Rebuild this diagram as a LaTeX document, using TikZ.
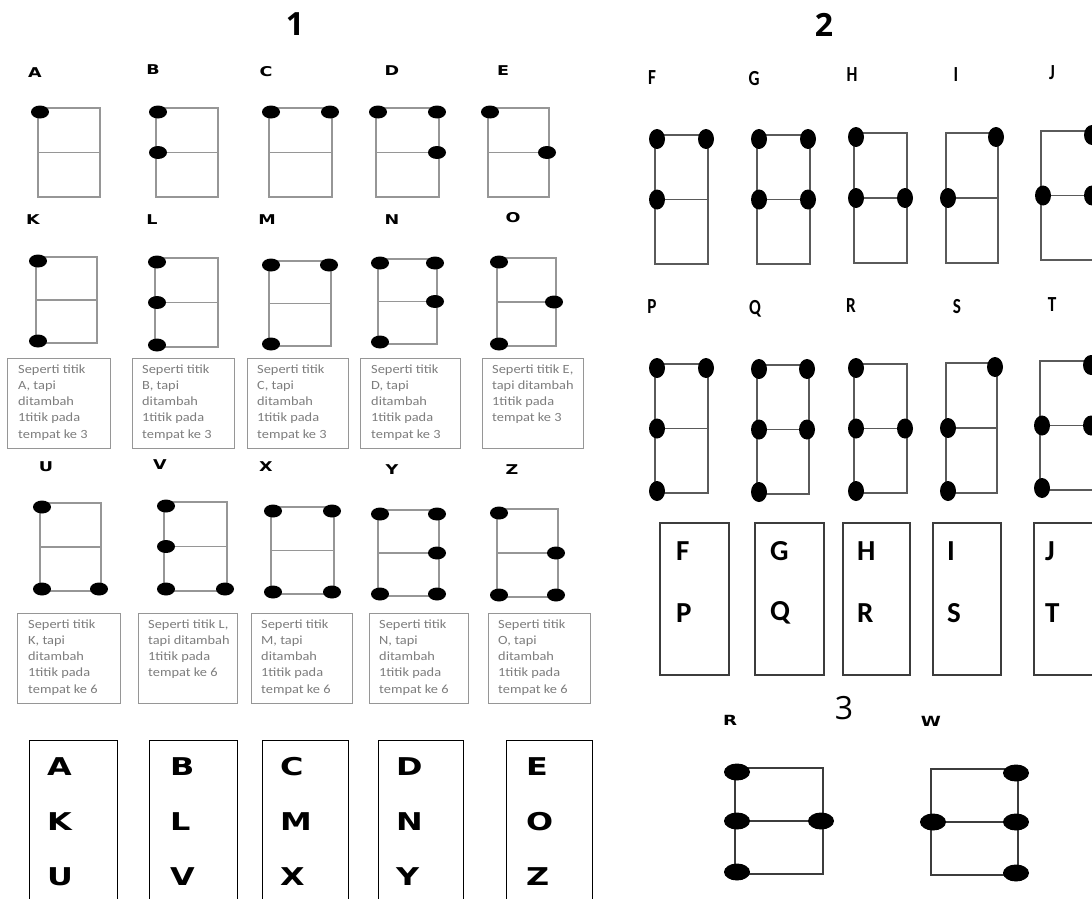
\documentclass[tikz,border=0pt]{standalone}
\usepackage{fontspec}
\usepackage{xcolor}
\usepackage{tikz}
\usetikzlibrary{positioning}
\newfontfamily\widefont[FakeStretch=1.3]{DejaVu Sans}
\newfontfamily\notefont{Carlito}
\newfontfamily\notewide[FakeStretch=1.15]{Carlito}
\newfontfamily\narrowfont[FakeStretch=0.8]{Carlito}
\newfontfamily\digitfont{Open Sans}
\definecolor{cellgray}{RGB}{150,150,150}
\definecolor{celldark}{RGB}{90,90,90}
\definecolor{boxdark}{RGB}{60,60,60}
\definecolor{notegray}{RGB}{125,125,125}
\tikzset{
  cellone/.style={draw=cellgray, line width=1.3pt},
  celltwo/.style={draw=celldark, line width=1.2pt},
  cellthree/.style={draw=boxdark, line width=1.3pt},
  dotone/.style={fill=black, x radius=9pt, y radius=6.5pt},
  dottwo/.style={fill=black, x radius=8pt, y radius=10pt},
  dotthree/.style={fill=black, x radius=13pt, y radius=8.5pt},
  titlenum/.style={font=\digitfont\bfseries\fontsize{32}{34}\selectfont, inner sep=0pt},
  labone/.style={font=\widefont\bfseries\fontsize{13.5}{14}\selectfont, inner sep=0pt},
  labtwo/.style={font=\narrowfont\bfseries\fontsize{21.5}{22}\selectfont, inner sep=0pt},
  notebox/.style={draw=cellgray, line width=1.3pt, inner sep=0pt, anchor=north west,
    minimum height=90pt},
  notetxt/.style={font=\notewide\fontsize{12.5}{16.2}\selectfont, text=notegray,
    align=left, inner sep=0pt, anchor=north west},
  colone/.style={draw=black, line width=1.3pt, anchor=north west, minimum height=170pt},
  coltwo/.style={draw=boxdark, line width=1.5pt, anchor=north west, minimum height=152pt},
  bigone/.style={font=\widefont\bfseries\fontsize{24.5}{26}\selectfont, inner sep=0pt,
    anchor=west},
  bigtwo/.style={font=\notefont\bfseries\fontsize{29}{30}\selectfont, inner sep=0pt,
    anchor=west},
}
% one cell: x, y, width, height, line style, dot style, dot numbers (1-3 left, 4-6 right)
\newcommand{\brcell}[7]{%
  \draw[#5] (#1,#2) rectangle ++(#3,#4) (#1,#2+#4/2) -- ++(#3,0);
  \foreach \d in {#7} {
    \pgfmathsetmacro{\dotx}{\d>3 ? #3-2 : 2}
    \pgfmathsetmacro{\doty}{mod(\d-1,3)==0 ? 4 : (mod(\d-1,3)==1 ? #4/2 : #4-2)}
    \path[#6] (#1+\dotx,#2+\doty) ellipse [];
  }
}

\begin{document}
\begin{tikzpicture}[x=1pt, y=-1pt]
  \useasboundingbox (0,0) rectangle (1092,899);
  \clip (0,0) rectangle (1092,899);

  % titles
  \node[titlenum] (titleone) at (295,24) {1};
  \node[titlenum] (titletwo) at (824,25) {2};
  \node[titlenum, font=\digitfont\fontsize{32}{34}\selectfont] (titlethree) at (844,708) {3};

  % panel 1: labels
  \foreach \n/\x/\y in {A/35/73, B/153/70, C/266/72, D/392/71, E/503/71,
      K/33/220, L/152/220, M/267/220, N/392/220, O/513/218,
      U/46/467, V/160/465, X/266/467, Y/392/470, Z/512/470}
    \node[labone] (lab\n) at (\x,\y) {\n};

  % panel 1: cells
  \brcell{38}{108}{62}{89}{cellone}{dotone}{1}
  \brcell{156}{108}{62}{89}{cellone}{dotone}{1,2}
  \brcell{269}{108}{63}{89}{cellone}{dotone}{1,4}
  \brcell{376}{108}{63}{89}{cellone}{dotone}{1,4,5}
  \brcell{488}{108}{61}{89}{cellone}{dotone}{1,5}
  \brcell{36}{257}{61}{86}{cellone}{dotone}{1,3}
  \brcell{155}{258}{63}{89}{cellone}{dotone}{1,2,3}
  \brcell{269}{261}{62}{85}{cellone}{dotone}{1,3,4}
  \brcell{378}{259}{59}{85}{cellone}{dotone}{1,3,4,5}
  \brcell{497}{258}{59}{88}{cellone}{dotone}{1,3,5}
  \brcell{40}{503}{61}{88}{cellone}{dotone}{1,3,6}
  \brcell{164}{502}{63}{89}{cellone}{dotone}{1,2,3,6}
  \brcell{271}{507}{63}{87}{cellone}{dotone}{1,3,4,6}
  \brcell{378}{510}{61}{86}{cellone}{dotone}{1,3,4,5,6}
  \brcell{497}{509}{61}{88}{cellone}{dotone}{1,3,5,6}

  % panel 1: notes, place 3
  \node[notebox, minimum width=103] (boxK) at (7,358) {};
  \node[notetxt] (txtK) at ([xshift=11pt,yshift=-6.5pt]boxK.north west)
    {Seperti titik\\A, tapi\\ditambah\\1titik pada\\tempat ke 3};
  \node[notebox, minimum width=102] (boxL) at (132,358) {};
  \node[notetxt] (txtL) at ([xshift=10pt,yshift=-6.5pt]boxL.north west)
    {Seperti titik\\B, tapi\\ditambah\\1titik pada\\tempat ke 3};
  \node[notebox, minimum width=101] (boxM) at (247,358) {};
  \node[notetxt] (txtM) at ([xshift=10pt,yshift=-6.5pt]boxM.north west)
    {Seperti titik\\C, tapi\\ditambah\\1titik pada\\tempat ke 3};
  \node[notebox, minimum width=100] (boxN) at (360,358) {};
  \node[notetxt] (txtN) at ([xshift=11pt,yshift=-6.5pt]boxN.north west)
    {Seperti titik\\D, tapi\\ditambah\\1titik pada\\tempat ke 3};
  \node[notebox, minimum width=101] (boxO) at (482,358) {};
  \node[notetxt] (txtO) at ([xshift=10pt,yshift=-6.5pt]boxO.north west)
    {Seperti titik E,\\tapi ditambah\\1titik pada\\tempat ke 3};

  % panel 1: notes, place 6
  \node[notebox, minimum width=103] (boxU) at (17,613) {};
  \node[notetxt] (txtU) at ([xshift=11pt,yshift=-6.5pt]boxU.north west)
    {Seperti titik\\K, tapi\\ditambah\\1titik pada\\tempat ke 6};
  \node[notebox, minimum width=99] (boxV) at (138,613) {};
  \node[notetxt] (txtV) at ([xshift=10pt,yshift=-6.5pt]boxV.north west)
    {Seperti titik L,\\tapi ditambah\\1titik pada\\tempat ke 6};
  \node[notebox, minimum width=101] (boxX) at (251,613) {};
  \node[notetxt] (txtX) at ([xshift=10pt,yshift=-6.5pt]boxX.north west)
    {Seperti titik\\M, tapi\\ditambah\\1titik pada\\tempat ke 6};
  \node[notebox, minimum width=99] (boxY) at (369,613) {};
  \node[notetxt] (txtY) at ([xshift=10pt,yshift=-6.5pt]boxY.north west)
    {Seperti titik\\N, tapi\\ditambah\\1titik pada\\tempat ke 6};
  \node[notebox, minimum width=102] (boxZ) at (488,613) {};
  \node[notetxt] (txtZ) at ([xshift=10pt,yshift=-6.5pt]boxZ.north west)
    {Seperti titik\\O, tapi\\ditambah\\1titik pada\\tempat ke 6};

  % panel 1: letter columns
  \foreach \n/\x/\w in {A/29/88, B/149/88, C/262/86, D/378/85, E/506/86}
    \node[colone, minimum width=\w] (col\n) at (\x,740) {};
  \foreach \a/\b/\c/\x in {A/K/U/47, B/L/V/170, C/M/X/280, D/N/Y/396, E/O/Z/526} {
    \node[bigone] (let\a) at (\x,767) {\a};
    \node[bigone] (let\b) at (\x,822) {\b};
    \node[bigone] (let\c) at (\x,877) {\c};
  }

  % panel 2: labels
  \foreach \n/\x/\y in {F/652/78, G/754/79, H/852/75, I/956/75, J/1052/73,
      P/652/307, Q/755/309, R/851/306, S/957/307, T/1052/305}
    \node[labtwo] (lab\n) at (\x,\y) {\n};

  % panel 2: cells
  \brcell{655}{135}{53}{129}{celltwo}{dottwo}{1,2,4}
  \brcell{757}{135}{53}{129}{celltwo}{dottwo}{1,2,4,5}
  \brcell{854}{133}{53}{130}{celltwo}{dottwo}{1,2,5}
  \brcell{946}{133}{52}{130}{celltwo}{dottwo}{2,4}
  \brcell{1041}{131}{53}{129}{celltwo}{dottwo}{2,4,5}
  \brcell{655}{364}{53}{129}{celltwo}{dottwo}{1,2,3,4}
  \brcell{757}{365}{52}{129}{celltwo}{dottwo}{1,2,3,4,5}
  \brcell{854}{364}{53}{129}{celltwo}{dottwo}{1,2,3,5}
  \brcell{946}{363}{51}{130}{celltwo}{dottwo}{2,3,4}
  \brcell{1040}{361}{53}{129}{celltwo}{dottwo}{2,3,4,5}

  % panel 2: letter columns
  \foreach \n/\x/\w in {F/659/69, G/754/69, H/842/67, I/932/68, J/1033/69}
    \node[coltwo, minimum width=\w] (col\n) at (\x,522) {};
  \foreach \a/\b/\x in {F/P/676, G/Q/770, H/R/857, I/S/947, J/T/1045} {
    \node[bigtwo] (let\a) at (\x,551) {\a};
    \node[bigtwo] (let\b) at (\x,613) {\b};
  }

  % panel 3
  \node[labone, font=\widefont\bfseries\fontsize{14}{15}\selectfont] (labRb) at (730,720) {R};
  \node[labone, font=\widefont\bfseries\fontsize{14}{15}\selectfont] (labW) at (931,721) {W};
  \brcell{735}{768}{88}{106}{cellthree}{dotthree}{1,2,3,5}
  \brcell{931}{769}{87}{106}{cellthree}{dotthree}{2,4,5,6}
\end{tikzpicture}
\end{document}
